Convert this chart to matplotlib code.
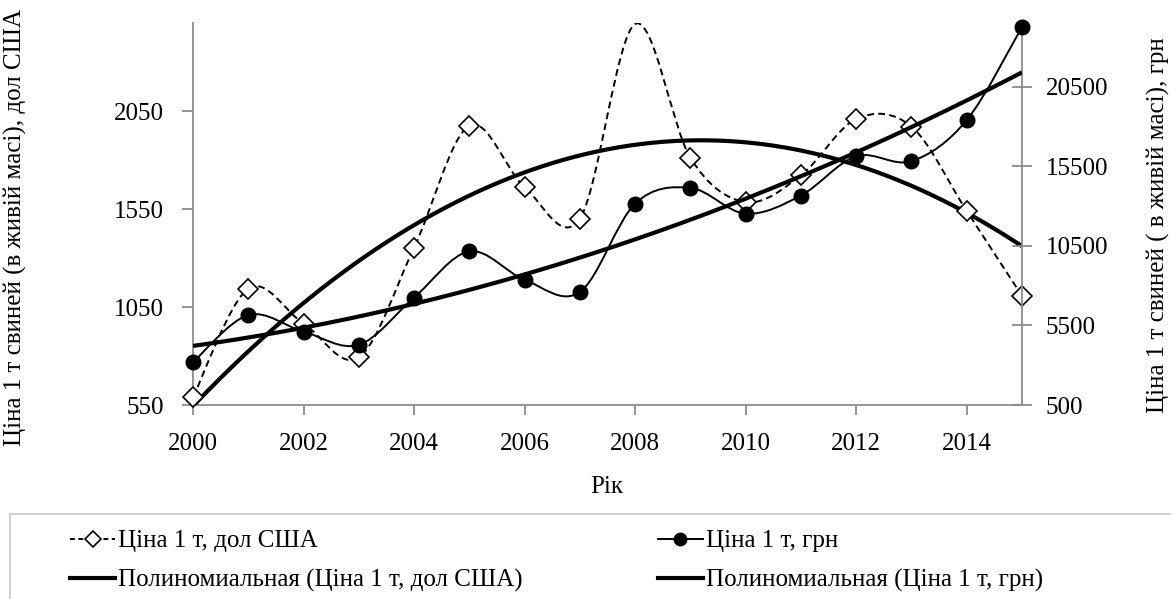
import numpy as np
import matplotlib
matplotlib.use("Agg")
import matplotlib.pyplot as plt
from matplotlib.path import Path
from matplotlib.patches import PathPatch, Rectangle
from matplotlib.lines import Line2D

plt.rcParams['font.family'] = ['Liberation Serif', 'DejaVu Serif']

years = [2000, 2001, 2002, 2003, 2004, 2005, 2006, 2007,
         2008, 2009, 2010, 2011, 2012, 2013, 2014, 2015]
price_usd = [590, 1144, 966, 793, 1353, 1976, 1662, 1501,
             2495, 1812, 1586, 1722, 2010, 1971, 1540, 1107]
price_uah = [3190, 6150, 5110, 4280, 7250, 10150, 8370, 7600,
             13150, 14140, 12520, 13660, 16130, 15820, 18400, 24250]

label_usd = "Ціна 1 т, дол США"
label_uah = "Ціна 1 т, грн"
label_poly_usd = "Полиномиальная (Ціна 1 т, дол США)"
label_poly_uah = "Полиномиальная (Ціна 1 т, грн)"
ylabel_left = "Ціна 1 т свиней (в живій масі), дол США"
ylabel_right = "Ціна 1 т свиней ( в живій масі), грн"
xlabel = "Рік"
left_ticks = [550, 1050, 1550, 2050]
right_ticks = [500, 5500, 10500, 15500, 20500]
x_ticks = [2000, 2002, 2004, 2006, 2008, 2010, 2012, 2014]


def smooth_path(x, y):
    p = np.column_stack([x, y]).astype(float)
    n = len(p)
    verts = [p[0]]
    codes = [Path.MOVETO]
    for i in range(n - 1):
        p0 = p[i - 1] if i > 0 else p[i]
        p1 = p[i]
        p2 = p[i + 1]
        p3 = p[i + 2] if i + 2 < n else p[i + 1]
        c1 = p1 + (p2 - p0) / 6.0
        c2 = p2 - (p3 - p1) / 6.0
        verts += [c1, c2, p2]
        codes += [Path.CURVE4] * 3
    return Path(verts, codes)


W, H = 1171, 599
fig = plt.figure(figsize=(W / 100, H / 100), dpi=100)
ax_l, ax_r, ax_t = 193, 1022, 23
ax_b = 405
ax = fig.add_axes([ax_l / W, 1 - ax_b / H, (ax_r - ax_l) / W, (ax_b - ax_t) / H])
ax2 = ax.twinx()

ax.set_xlim(2000, 2015)
ax.set_ylim(550, 2500)
ax2.set_ylim(500, 24500)

grey = '#8c8c8c'
for a in (ax, ax2):
    for s in a.spines.values():
        s.set_color(grey)
        s.set_linewidth(1.3)
    a.spines['top'].set_visible(False)
    a.patch.set_visible(False)
ax.spines['right'].set_visible(False)
ax2.spines['left'].set_visible(False)
ax2.spines['bottom'].set_visible(False)

ax.set_xticks(x_ticks)
ax.set_yticks(left_ticks)
ax2.set_yticks(right_ticks)
ax.tick_params(axis='x', direction='out', length=7, width=1.3, color=grey,
               labelsize=18, pad=13)
ax.tick_params(axis='y', direction='out', length=8, width=1.3, color=grey,
               labelsize=18, pad=13)
ax2.tick_params(axis='y', direction='inout', length=14, width=1.3, color=grey,
                labelsize=18, pad=10)

xs = np.array(years, dtype=float)
yu = np.array(price_usd, dtype=float)
yh = np.array(price_uah, dtype=float)

# trend lines (2nd-order polynomial, as in Excel)
cu = np.polyfit(xs - 2000, yu, 2)
ch = np.polyfit(xs - 2000, yh, 2)
xf = np.linspace(2000, 2015, 300)
ax.plot(xf, np.polyval(cu, xf - 2000), color='black', lw=3.0, zorder=3,
        solid_capstyle='butt')
ax2.plot(xf, np.polyval(ch, xf - 2000), color='black', lw=3.0, zorder=3,
         solid_capstyle='butt')

# smoothed series
ax.add_patch(PathPatch(smooth_path(xs, yu), fill=False, edgecolor='black',
                       lw=1.4, linestyle=(0, (3.5, 2.2)), zorder=4))
ax2.add_patch(PathPatch(smooth_path(xs, yh), fill=False, edgecolor='black',
                        lw=1.4, zorder=4))

marks = [i for i in range(len(years)) if years[i] != 2008]
ax.plot(xs, yu, linestyle='none', marker='D', ms=10, mfc='white',
        mec='black', mew=1.2, markevery=marks, zorder=5, clip_on=False)
ax2.plot(xs, yh, linestyle='none', marker='o', ms=10.5, mfc='black',
         mec='black', zorder=5, clip_on=False)

fig.text(15 / W, 1 - 228 / H, ylabel_left, rotation=90, ha='center',
         va='center', fontsize=18)
fig.text(1158 / W, 1 - 225 / H, ylabel_right, rotation=90, ha='center',
         va='center', fontsize=18)
fig.text(607 / W, 1 - 487 / H, xlabel, ha='center', va='center', fontsize=18)

# legend frame
fig.patches.append(Rectangle((10 / W, -0.1), 1.2, (1 - 514 / H) + 0.1,
                             transform=fig.transFigure, fill=False,
                             edgecolor='#c8c8c8', lw=1.2))

h_usd = Line2D([], [], color='black', lw=1.4, linestyle=(0, (2.5, 1.8)),
               marker='D', ms=8, mfc='white', mec='black', mew=1.2)
h_puse = Line2D([], [], color='black', lw=3.0)
h_uah = Line2D([], [], color='black', lw=1.4, marker='o', ms=9,
               mfc='black', mec='black')
h_puah = Line2D([], [], color='black', lw=3.0)
leg = fig.legend([h_usd, h_puse, h_uah, h_puah],
                 [label_usd, label_poly_usd, label_uah, label_poly_uah],
                 ncol=2, frameon=False, fontsize=18,
                 loc='upper left', bbox_to_anchor=(70 / W, 1 - 530 / H),
                 handlelength=1.8, handletextpad=0.12, columnspacing=5.4,
                 labelspacing=0.66, borderaxespad=0, borderpad=0)

fig.savefig('out.png', dpi=100)
